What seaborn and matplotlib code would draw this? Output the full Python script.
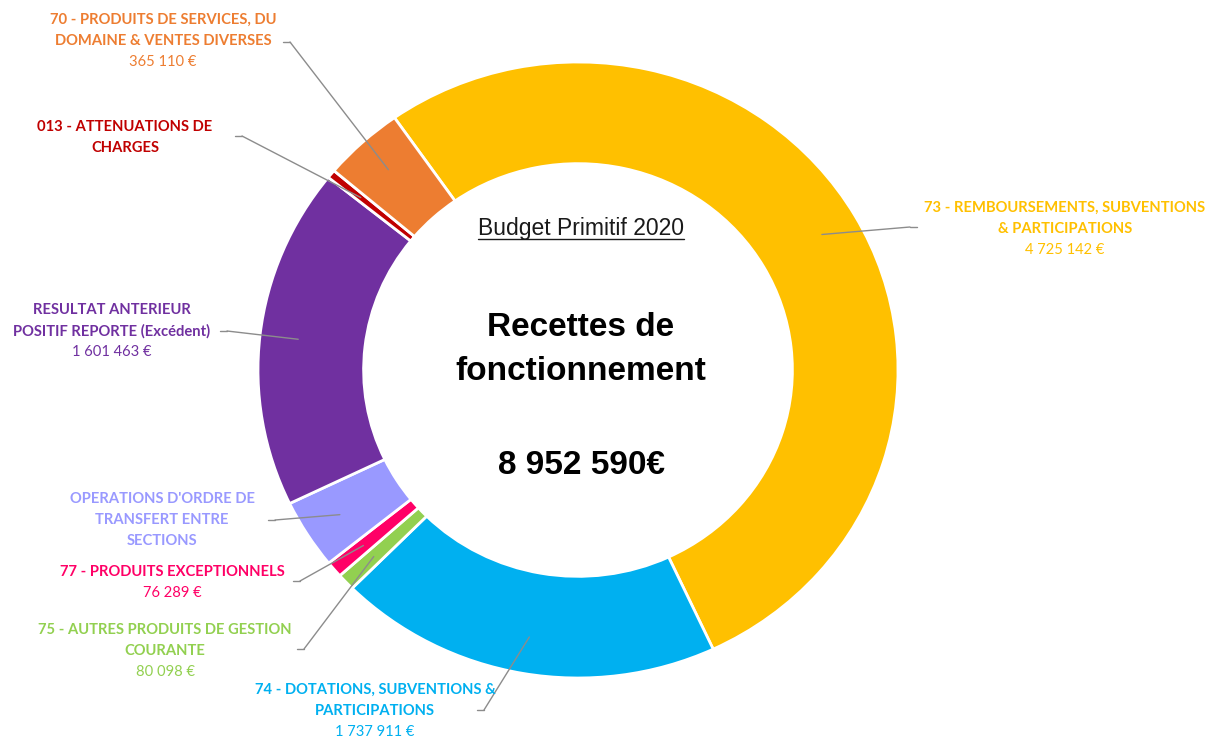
import numpy as np
import matplotlib
matplotlib.use("Agg")
import matplotlib.pyplot as plt
from matplotlib.lines import Line2D
import seaborn as sns

# données (ordre horaire depuis le haut)
categories = [
    "73 - REMBOURSEMENTS, SUBVENTIONS\n& PARTICIPATIONS",
    "74 - DOTATIONS, SUBVENTIONS &\nPARTICIPATIONS",
    "75 - AUTRES PRODUITS DE GESTION\nCOURANTE",
    "77 - PRODUITS EXCEPTIONNELS",
    "OPERATIONS D'ORDRE DE\nTRANSFERT ENTRE\nSECTIONS",
    "RESULTAT ANTERIEUR\nPOSITIF REPORTE (Excédent)",
    "013 - ATTENUATIONS DE\nCHARGES",
    "70 - PRODUITS DE SERVICES, DU\nDOMAINE & VENTES DIVERSES",
]
montants = [4725142, 1737911, 80098, 76289, 326577, 1601463, 40000, 365110]
montant_affiche = [True, True, True, True, False, True, False, True]
couleurs = ["#FFC000", "#00B0F0", "#92D050", "#FF0066",
            "#9999FF", "#7030A0", "#C00000", "#ED7D31"]
total = 8952590

# position des étiquettes (pixels, origine en haut à gauche)
pos_label = [(1065, 208), (375, 690), (165, 630), (172, 572),
             (162, 499), (112, 310), (125, 127), (163, 20)]
pos_trait = [(917, 227), (477, 710), (297, 649), (293, 581),
             (268, 520), (220, 331), (235, 136), (283, 42)]
sens_trait = [-1, 1, 1, 1, 1, 1, 1, 1]

sns.set_theme(style="white")
plt.rcParams["font.family"] = ["Lato", "DejaVu Sans"]

W, H = 1208, 738
fig = plt.figure(figsize=(W / 100, H / 100), dpi=100)
fig.patch.set_facecolor("white")


def fx(x, y):
    return (x / W, 1 - y / H)


# donut (légèrement elliptique comme l'original)
cx, cy, rx, ry = 578, 370, 320, 308
ax = fig.add_axes([(cx - rx) / W, 1 - (cy + ry) / H, 2 * rx / W, 2 * ry / H])
start = 125
wedges, _ = ax.pie(montants, colors=couleurs, startangle=start, counterclock=False,
                   radius=1, wedgeprops=dict(width=0.33, edgecolor="white", linewidth=2))
ax.set_xlim(-1, 1)
ax.set_ylim(-1, 1)
ax.set_aspect("auto")
ax.axis("off")


def fmt(v):
    return "{:,}".format(v).replace(",", " ") + " €"


for i, w in enumerate(wedges):
    ang = np.deg2rad((w.theta1 + w.theta2) / 2)
    r = 0.88
    xs, ys = pos_trait[i]
    # petit trait horizontal côté étiquette
    fig.add_artist(Line2D([xs / W, (xs + 7 * sens_trait[i]) / W], [1 - ys / H, 1 - ys / H],
                          transform=fig.transFigure, color="#8c8c8c", lw=1))
    ax.annotate("", xy=(r * np.cos(ang), r * np.sin(ang)), xycoords="data",
                xytext=fx(xs + 7 * sens_trait[i], ys), textcoords="figure fraction",
                arrowprops=dict(arrowstyle="-", color="#8c8c8c", lw=1,
                                shrinkA=0, shrinkB=0))
    lx, ly = pos_label[i]
    lignes = categories[i].split("\n")
    for k, lig in enumerate(lignes):
        fig.text(*fx(lx, ly + 21 * k), lig, ha="center", va="center",
                 fontsize=10.6, fontweight="bold", color=couleurs[i])
    if montant_affiche[i]:
        fig.text(*fx(lx, ly + 21 * len(lignes)), fmt(montants[i]), ha="center",
                 va="center", fontsize=10.6, color=couleurs[i])

# textes centraux
centre = ["Liberation Sans Narrow", "Liberation Sans", "DejaVu Sans"]
t = fig.text(*fx(581, 228), "Budget Primitif 2020", ha="center", va="center",
             fontsize=16.5, family=centre, color="#1a1a1a")
fig.text(*fx(581, 328), "Recettes de", ha="center", va="center",
         fontsize=24, fontweight="bold", family=centre, color="black")
fig.text(*fx(581, 372), "fonctionnement", ha="center", va="center",
         fontsize=24, fontweight="bold", family=centre, color="black")
fig.text(*fx(581, 465), "{:,}".format(total).replace(",", " ") + "€", ha="center",
         va="center", fontsize=24, fontweight="bold", family=centre, color="black")

fig.canvas.draw()
bb = t.get_window_extent().transformed(fig.transFigure.inverted())
fig.add_artist(Line2D([bb.x0, bb.x1], [bb.y0 + 0.001, bb.y0 + 0.001],
                      transform=fig.transFigure, color="#1a1a1a", lw=1))

fig.savefig("out.png", dpi=100, facecolor="white")
